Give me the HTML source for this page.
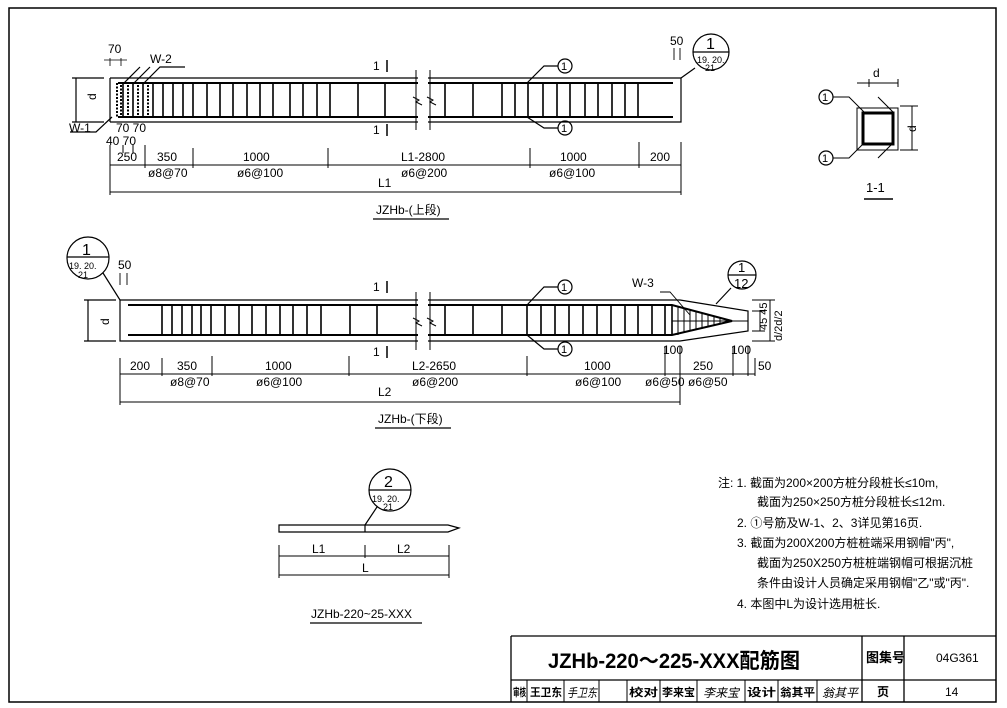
<!DOCTYPE html>
<html><head><meta charset="utf-8"><style>
body{margin:0;background:#fff}
svg{display:block}
text{font-family:"Liberation Sans","Noto Sans CJK SC",sans-serif;fill:#000}
</style></head><body>
<svg width="1007" height="708" viewBox="0 0 1007 708" xmlns="http://www.w3.org/2000/svg" stroke="#000" fill="none" stroke-width="1.2">
<rect x="9" y="8" width="987" height="694" stroke-width="1.5"/>

<!-- ===== TOP PILE ===== -->
<g>
<path d="M110 78 H418 M428 78 H681 V122 H428 M418 122 H110 Z"/>
<path d="M110 78 V122"/>
<path d="M118 83 H418 M428 83 H673 M118 117 H418 M428 117 H673" stroke-width="2"/>
<path d="M416 70 V130 M430 70 V130" stroke-width="1"/>
<path d="M413 97 l6 3 -3 2 6 3 M427 97 l6 3 -3 2 6 3" stroke-width="1"/>
<path d="M117 83 V117 M121 85 V115" stroke-width="2" stroke-dasharray="2 1.5"/>
<path d="M123 83V117M133 83V117M143 83V117M153 83V117M163 83V117M173 83V117M183 83V117M193 83V117M207 83V117M220 83V117M233 83V117M247 83V117M260 83V117M273 83V117M290 83V117M303 83V117M317 83V117M330 83V117M358 83V117M385 83V117M445 83V117M473 83V117M502 83V117M515 83V117M528 83V117M543 83V117M557 83V117M570 83V117M585 83V117M598 83V117M612 83V117M625 83V117M638 83V117" stroke-width="1.6"/>
<path d="M128 85V115M138 85V115M148 85V115" stroke-width="2" stroke-dasharray="2 1.5"/>
<path d="M123 84 L140 67 M133 84 L150 67 M143 84 L160 67 H185"/>
<text x="150" y="63" font-size="12" stroke="none">W-2</text>
<path d="M112 117 L96 132 H70"/>
<text x="69" y="132" font-size="12" stroke="none">W-1</text>
<text x="108" y="53" font-size="12" stroke="none">70</text>
<path d="M110 58 V66 M121 58 V66 M104 60 H127" stroke-width="0.8"/>
<path d="M72 78 H104 M72 122 H104 M76 78 V122"/>
<text x="0" y="0" font-size="12" stroke="none" transform="translate(96,100) rotate(-90)">d</text>
<text x="116" y="132" font-size="12" stroke="none">70  70</text>
<text x="106" y="145" font-size="12" stroke="none">40 70</text>
<text x="373" y="70" font-size="12" stroke="none">1</text><path d="M387 60 V72" stroke-width="1.5"/>
<text x="373" y="134" font-size="12" stroke="none">1</text><path d="M387 124 V136" stroke-width="1.5"/>
<path d="M527 83 L544 66 H558"/><circle cx="565" cy="66" r="7"/><text x="561" y="70" font-size="11" stroke="none">1</text>
<path d="M527 117 L544 128 H558"/><circle cx="565" cy="128" r="7"/><text x="561" y="132" font-size="11" stroke="none">1</text>
<text x="670" y="45" font-size="12" stroke="none">50</text>
<path d="M674 48 V60 M680 48 V60" stroke-width="0.9"/>
<path d="M681 78 L695 68"/>
<circle cx="711" cy="52" r="18"/><path d="M693 52 H729"/>
<text x="706" y="49" font-size="16" stroke="none">1</text>
<text x="697" y="63" font-size="9" stroke="none">19. 20.</text>
<text x="705" y="71" font-size="9" stroke="none">21</text>
<path d="M110 165 H681 M110 192 H681" stroke-width="1"/>
<path d="M110 145 V195 M123 145 V153 M133 145 V153 M145 145 V168 M193 148 V168 M328 148 V168 M530 148 V168 M639 142 V168 M681 142 V195" stroke-width="1"/>
<text x="117" y="161" font-size="12" stroke="none">250</text>
<text x="157" y="161" font-size="12" stroke="none">350</text>
<text x="243" y="161" font-size="12" stroke="none">1000</text>
<text x="401" y="161" font-size="12" stroke="none">L1-2800</text>
<text x="560" y="161" font-size="12" stroke="none">1000</text>
<text x="650" y="161" font-size="12" stroke="none">200</text>
<text x="148" y="177" font-size="12" stroke="none">ø8@70</text>
<text x="237" y="177" font-size="12" stroke="none">ø6@100</text>
<text x="401" y="177" font-size="12" stroke="none">ø6@200</text>
<text x="549" y="177" font-size="12" stroke="none">ø6@100</text>
<text x="378" y="187" font-size="12" stroke="none">L1</text>
<text x="376" y="214" font-size="12" stroke="none">JZHb-(上段)</text>
<path d="M373 219 H449" stroke-width="1.3"/>
</g>

<!-- ===== SECTION 1-1 ===== -->
<g>
<path d="M857 108 H898 V150 H857 Z" stroke-width="1"/>
<rect x="863" y="113" width="30" height="31" stroke-width="3"/>
<path d="M869 79 V87 M898 79 V87 M857 83 H898" stroke-width="1"/>
<text x="873" y="77" font-size="12" stroke="none">d</text>
<path d="M900 106 H918 M900 150 H918 M912 106 V150" stroke-width="1"/>
<text x="0" y="0" font-size="12" stroke="none" transform="translate(916,132) rotate(-90)">d</text>
<path d="M833 97 H849 L864 112 M833 158 H849 L864 143 M878 97 L893 112 M878 158 L893 143" stroke-width="1"/>
<circle cx="826" cy="97" r="7"/><text x="822" y="101" font-size="11" stroke="none">1</text>
<circle cx="826" cy="158" r="7"/><text x="822" y="162" font-size="11" stroke="none">1</text>
<text x="866" y="192" font-size="13" stroke="none">1-1</text>
<path d="M864 199 H893" stroke-width="1.5"/>
</g>

<!-- ===== BOTTOM PILE ===== -->
<g>
<path d="M120 300 H418 M428 300 H680 L748 311 V331 L680 341 H428 M418 341 H120 V300"/>
<path d="M128 305 H418 M428 305 H672 L732 321 L672 335 H428 M418 335 H128" stroke-width="2"/>
<path d="M416 292 V350 M430 292 V350" stroke-width="1"/>
<path d="M413 318 l6 3 -3 2 6 3 M427 318 l6 3 -3 2 6 3" stroke-width="1"/>
<path d="M162 305V335M172 305V335M182 305V335M192 305V335M201 305V335M211 305V335M225 305V335M239 305V335M252 305V335M266 305V335M280 305V335M293 305V335M307 305V335M321 305V335M350 305V335M377 305V335M445 305V335M473 305V335M502 305V335M527 305V335M541 305V335M555 305V335M569 305V335M583 305V335M597 305V335M611 305V335M625 305V335M638 305V335M652 305V335M665 305V335M672 305V335" stroke-width="1.6"/>
<path d="M678 307V335M684 309V333M690 310V331M696 312V330M702 313V329M708 315V327M714 316V326M720 318V324" stroke-width="1"/>
<path d="M672 321 H748" stroke-width="1"/>
<path d="M660 292 H670 L690 315" stroke-width="0.9"/>
<text x="632" y="287" font-size="12" stroke="none">W-3</text>
<path d="M716 304 L731 288"/>
<circle cx="742" cy="275" r="14"/><path d="M728 275 H756"/>
<text x="738" y="272" font-size="13" stroke="none">1</text><text x="734" y="288" font-size="13" stroke="none">12</text>
<path d="M752 300 H775 M752 341 H775 M770 300 V341 M752 311 H765 M752 331 H765 M760 311 V331" stroke-width="1"/>
<text x="0" y="0" font-size="11" stroke="none" transform="translate(767,330) rotate(-90)">45 45</text>
<text x="0" y="0" font-size="11" stroke="none" transform="translate(782,341) rotate(-90)">d/2d/2</text>
<circle cx="88" cy="258" r="21"/><path d="M67 257 H109"/>
<text x="82" y="255" font-size="16" stroke="none">1</text>
<text x="69" y="269" font-size="9" stroke="none">19. 20.</text>
<text x="78" y="278" font-size="9" stroke="none">21</text>
<path d="M103 273 L120 300"/>
<text x="118" y="269" font-size="12" stroke="none">50</text>
<path d="M120 273 V285 M127 273 V285" stroke-width="0.9"/>
<path d="M84 300 H116 M84 341 H116 M88 300 V341"/>
<text x="0" y="0" font-size="12" stroke="none" transform="translate(109,325) rotate(-90)">d</text>
<text x="373" y="291" font-size="12" stroke="none">1</text><path d="M387 281 V293" stroke-width="1.5"/>
<text x="373" y="356" font-size="12" stroke="none">1</text><path d="M387 346 V358" stroke-width="1.5"/>
<path d="M527 305 L544 287 H558"/><circle cx="565" cy="287" r="7"/><text x="561" y="291" font-size="11" stroke="none">1</text>
<path d="M527 335 L544 349 H558"/><circle cx="565" cy="349" r="7"/><text x="561" y="353" font-size="11" stroke="none">1</text>
<path d="M120 374 H755 M120 402 H680" stroke-width="1"/>
<path d="M120 358 V405 M162 358 V376 M212 356 V376 M349 356 V376 M527 356 V376 M665 346 V376 M680 346 V405 M733 346 V376 M748 346 V376 M755 358 V376" stroke-width="1"/>
<text x="130" y="370" font-size="12" stroke="none">200</text>
<text x="177" y="370" font-size="12" stroke="none">350</text>
<text x="265" y="370" font-size="12" stroke="none">1000</text>
<text x="412" y="370" font-size="12" stroke="none">L2-2650</text>
<text x="584" y="370" font-size="12" stroke="none">1000</text>
<text x="663" y="354" font-size="12" stroke="none">100</text>
<text x="693" y="370" font-size="12" stroke="none">250</text>
<text x="731" y="354" font-size="12" stroke="none">100</text>
<text x="758" y="370" font-size="12" stroke="none">50</text>
<text x="170" y="386" font-size="12" stroke="none">ø8@70</text>
<text x="256" y="386" font-size="12" stroke="none">ø6@100</text>
<text x="412" y="386" font-size="12" stroke="none">ø6@200</text>
<text x="575" y="386" font-size="12" stroke="none">ø6@100</text>
<text x="645" y="386" font-size="12" stroke="none">ø6@50</text>
<text x="688" y="386" font-size="12" stroke="none">ø6@50</text>
<text x="378" y="396" font-size="12" stroke="none">L2</text>
<text x="378" y="423" font-size="12" stroke="none">JZHb-(下段)</text>
<path d="M375 428 H451" stroke-width="1.3"/>
</g>

<!-- ===== SMALL PILE ===== -->
<g>
<path d="M279 525 H448 L459 528 L448 532 H279 Z"/>
<path d="M365 525 V532"/>
<path d="M365 525 L377 507"/>
<circle cx="390" cy="490" r="21"/><path d="M369 490 H411"/>
<text x="384" y="487" font-size="16" stroke="none">2</text>
<text x="372" y="502" font-size="9" stroke="none">19. 20.</text>
<text x="383" y="510" font-size="9" stroke="none">21</text>
<path d="M279 556 H449 M279 575 H449 M279 545 V578 M365 545 V558 M449 545 V578" stroke-width="1"/>
<text x="312" y="553" font-size="12" stroke="none">L1</text>
<text x="397" y="553" font-size="12" stroke="none">L2</text>
<text x="362" y="572" font-size="12" stroke="none">L</text>
<text x="311" y="618" font-size="12" stroke="none">JZHb-220~25-XXX</text>
<path d="M310 623 H422" stroke-width="1.3"/>
</g>

<!-- ===== NOTES ===== -->
<g stroke="none" font-size="12">
<text x="718" y="487">注: 1. 截面为200×200方桩分段桩长≤10m,</text>
<text x="757" y="506">截面为250×250方桩分段桩长≤12m.</text>
<text x="737" y="527">2. ①号筋及W-1、2、3详见第16页.</text>
<text x="737" y="547">3. 截面为200X200方桩桩端采用钢帽"丙",</text>
<text x="757" y="567">截面为250X250方桩桩端钢帽可根据沉桩</text>
<text x="757" y="587">条件由设计人员确定采用钢帽"乙"或"丙".</text>
<text x="737" y="608">4. 本图中L为设计选用桩长.</text>
</g>

<!-- ===== TITLE BLOCK ===== -->
<g>
<path d="M511 636 H996 M511 636 V702 M511 680 H996 M862 636 V702 M904 636 V702" stroke-width="1.3"/>
<path d="M527 680V702M564 680V702M599 680V702M627 680V702M660 680V702M697 680V702M745 680V702M778 680V702M817 680V702" stroke-width="1"/>
<g stroke="none">
<text x="548" y="668" font-size="21" font-weight="bold" textLength="252" lengthAdjust="spacingAndGlyphs">JZHb-220～225-XXX配筋图</text>
<text x="866" y="662" font-size="13" font-weight="bold">图集号</text>
<text x="936" y="662" font-size="12">04G361</text>
<text x="513" y="696" font-size="11" font-weight="bold" textLength="13" lengthAdjust="spacingAndGlyphs">审核</text>
<text x="530" y="696" font-size="11" font-weight="bold" textLength="32" lengthAdjust="spacingAndGlyphs">王卫东</text>
<text x="567" y="697" font-size="12" font-style="italic" textLength="30" lengthAdjust="spacingAndGlyphs">手卫东</text>
<text x="629" y="696" font-size="11" font-weight="bold" textLength="29" lengthAdjust="spacingAndGlyphs">校对</text>
<text x="662" y="696" font-size="11" font-weight="bold" textLength="33" lengthAdjust="spacingAndGlyphs">李来宝</text>
<text x="703" y="697" font-size="12" font-style="italic" textLength="36" lengthAdjust="spacingAndGlyphs">李来宝</text>
<text x="747" y="696" font-size="11" font-weight="bold" textLength="29" lengthAdjust="spacingAndGlyphs">设计</text>
<text x="780" y="696" font-size="11" font-weight="bold" textLength="35" lengthAdjust="spacingAndGlyphs">翁其平</text>
<text x="822" y="697" font-size="12" font-style="italic" textLength="36" lengthAdjust="spacingAndGlyphs">翁其平</text>
<text x="877" y="696" font-size="12" font-weight="bold">页</text>
<text x="945" y="696" font-size="12">14</text>
</g>
</g>
</svg>
</body></html>
